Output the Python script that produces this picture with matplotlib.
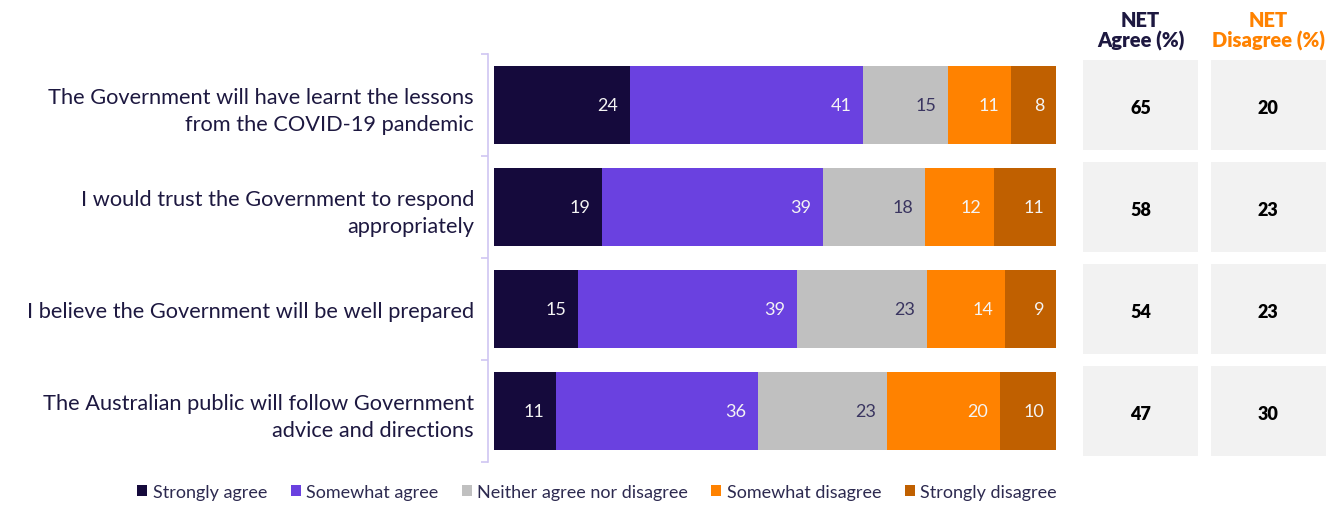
import numpy as np
import matplotlib.pyplot as plt
from matplotlib.ticker import FixedLocator

plt.rcParams['font.family'] = ['Lato', 'DejaVu Sans']

# data
statements = [
    "The Government will have learnt the lessons\nfrom the COVID-19 pandemic",
    "I would trust the Government to respond\nappropriately",
    "I believe the Government will be well prepared",
    "The Australian public will follow Government\nadvice and directions",
]
responses = ["Strongly agree", "Somewhat agree", "Neither agree nor disagree",
             "Somewhat disagree", "Strongly disagree"]
strongly_agree = [24, 19, 15, 11]
somewhat_agree = [41, 39, 39, 36]
neither = [15, 18, 23, 23]
somewhat_disagree = [11, 12, 14, 20]
strongly_disagree = [8, 11, 9, 10]
net_agree = [65, 58, 54, 47]
net_disagree = [20, 23, 23, 30]

colors = ["#150a3c", "#6a41e0", "#c0c0c0", "#ff8200", "#c06000"]
text_colors = ["#f4f4f4", "#f4f4f4", "#3a3560", "#f4f4f4", "#f4f4f4"]
dark = "#1d1840"

W, H = 1337, 506
fig = plt.figure(figsize=(W / 100, H / 100), dpi=100)

def box(x0, y0, x1, y1):
    return [x0 / W, 1 - y1 / H, (x1 - x0) / W, (y1 - y0) / H]

ax = fig.add_axes(box(488, 55, 1056, 463))
series = [strongly_agree, somewhat_agree, neither, somewhat_disagree, strongly_disagree]
data = np.array(series, dtype=float)
totals = data.sum(axis=0)
pct = data / totals * 100
y = np.arange(len(statements))
left = np.zeros(len(statements))
for i, (name, vals) in enumerate(zip(responses, pct)):
    ax.barh(y, vals, left=left, height=0.76, color=colors[i], label=name)
    for j in range(len(statements)):
        ax.text(left[j] + vals[j] - 2.1, y[j], str(series[i][j]), ha='right', va='center',
                fontsize=13, color=text_colors[i])
    left += vals

ax.set_xlim(-1.07, 100)
ax.set_ylim(3.5, -0.5)
ax.set_yticks(y)
ax.set_yticklabels(statements, fontsize=15.7, color=dark, ha='right', linespacing=1.45)
ax.tick_params(axis='y', which='major', length=0, pad=10)
ax.yaxis.set_minor_locator(FixedLocator([-0.5, 0.5, 1.5, 2.5, 3.5]))
ax.tick_params(axis='y', which='minor', length=5, color="#cfc6f2", width=1.2)
ax.set_xticks([])
for s in ['top', 'right', 'bottom']:
    ax.spines[s].set_visible(False)
ax.spines['left'].set_color("#cfc6f2")
ax.spines['left'].set_linewidth(1.2)

# NET columns
ax2 = fig.add_axes(box(1077, 55, 1332, 463))
ax2.barh(y, [0.9] * 4, left=0.05, height=0.88, color="#f2f2f2")
ax2.barh(y, [0.9] * 4, left=1.05, height=0.88, color="#f2f2f2")
for j in range(len(statements)):
    ax2.text(0.5, y[j] + 0.02, str(net_agree[j]), ha='center', va='center', fontsize=13,
             fontweight='heavy', color='black')
    ax2.text(1.5, y[j] + 0.02, str(net_disagree[j]), ha='center', va='center', fontsize=13,
             fontweight='heavy', color='black')
ax2.set_xlim(0, 2)
ax2.set_ylim(3.5, -0.5)
ax2.axis('off')

fig.text(1140.5 / W, 1 - 31 / H, "NET\nAgree (%)", ha='center', va='center', fontsize=14.5,
         fontweight='heavy', color=dark, linespacing=1.1)
fig.text(1268 / W, 1 - 31 / H, "NET\nDisagree (%)", ha='center', va='center', fontsize=14.5,
         fontweight='heavy', color="#ff8200", linespacing=1.1)

leg = fig.legend(loc='center', bbox_to_anchor=(597 / W, 1 - 493 / H), ncol=5, frameon=False,
                 fontsize=13, handlelength=0.55, handleheight=0.55, handletextpad=0.3,
                 columnspacing=1.3)
for t in leg.get_texts():
    t.set_color("#2d2a50")

fig.savefig("out.png", dpi=100)
